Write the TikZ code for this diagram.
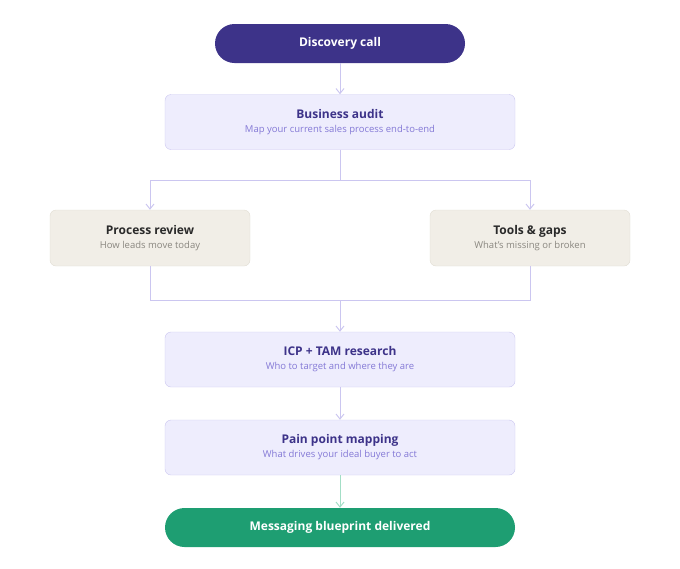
\documentclass[tikz,border=0pt]{standalone}
\usepackage{fontspec}
\setmainfont{Open Sans}
\usetikzlibrary{positioning,arrows.meta}
\definecolor{deep}{HTML}{3D3389}
\definecolor{deepsub}{HTML}{8479D6}
\definecolor{ink}{HTML}{2A2A2A}
\definecolor{inksub}{HTML}{8A8780}
\definecolor{lav}{HTML}{EEEDFD}
\definecolor{lavline}{HTML}{CBC6F0}
\definecolor{sand}{HTML}{F1EEE7}
\definecolor{sandline}{HTML}{E0DDD3}
\definecolor{grn}{HTML}{1E9E72}
\definecolor{grnline}{HTML}{A3DEC6}
\tikzset{
	stage/.style={draw=lavline, fill=lav, rounded corners=6pt, minimum width=350pt, minimum height=55pt, align=center},
	side/.style={draw=sandline, fill=sand, rounded corners=6pt, minimum width=200pt, minimum height=56pt, align=center},
	pill/.style={rounded corners=19.5pt, minimum width=250pt, minimum height=39pt, text=white, font=\fontsize{12}{14}\selectfont\bfseries},
	link/.style={draw=lavline, line width=1pt, -{Straight Barb[length=5pt,width=8pt]}},
	wire/.style={draw=lavline, line width=1pt}
}
\newcommand{\boxtext}[4]{{\fontsize{12}{14}\selectfont\bfseries\color{#1}#3}\\[2pt]{\fontsize{9.5}{11}\selectfont\color{#2}#4}}
\begin{document}
\begin{tikzpicture}[x=1pt,y=-1pt]
	\useasboundingbox (0,0) rectangle (680,568);
	
	\node[pill, fill=deep] (call) at (340,43.5) {Discovery call};
	\node[stage] (audit) at (340,122) {\boxtext{deep}{deepsub}{Business audit}{Map your current sales process end-to-end}};
	\node[side] (review) at (150,238) {\boxtext{ink}{inksub}{Process review}{How leads move today}};
	\node[side] (tools) at (530,238) {\boxtext{ink}{inksub}{Tools \& gaps}{What's missing or broken}};
	\node[stage] (icp) at (340,359.5) {\boxtext{deep}{deepsub}{ICP + TAM research}{Who to target and where they are}};
	\node[stage] (pain) at (340,447.5) {\boxtext{deep}{deepsub}{Pain point mapping}{What drives your ideal buyer to act}};
	\node[pill, fill=grn, minimum width=350pt] (blueprint) at (340,527.5) {Messaging blueprint delivered};
	
	\coordinate (split) at (340,180);
	\coordinate (merge) at (340,300);
	
	\draw[link] (call) -- (audit);
	\draw[wire] (audit) -- (split);
	\draw[link] (split) -| (review);
	\draw[link] (split) -| (tools);
	\draw[wire] (review) |- (merge);
	\draw[wire] (tools) |- (merge);
	\draw[link] (merge) -- (icp);
	\draw[link] (icp) -- (pain);
	\draw[link, draw=grnline] (pain) -- (blueprint);
\end{tikzpicture}
\end{document}
